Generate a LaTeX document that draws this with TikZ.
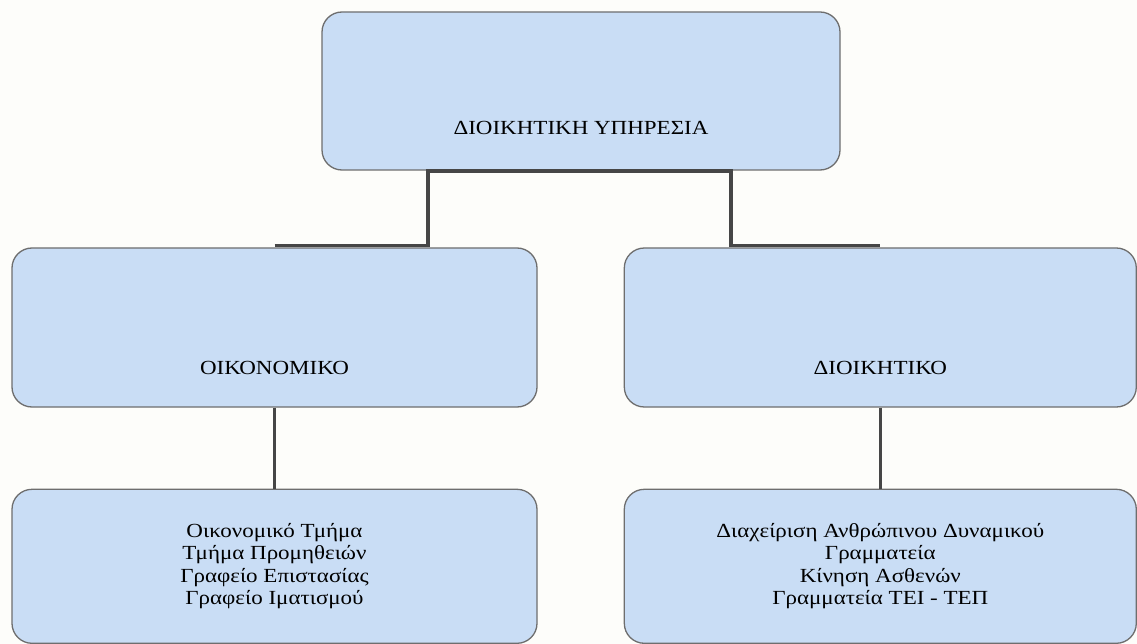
\documentclass[tikz,border=0pt]{standalone}
\usepackage{fontspec}
\setmainfont[FakeStretch=1.15]{Liberation Serif}
\usetikzlibrary{positioning,calc}
\definecolor{boxblue}{RGB}{201,221,245}
\definecolor{boxline}{RGB}{110,110,110}
\definecolor{connline}{RGB}{70,70,70}
\definecolor{paper}{RGB}{253,253,250}

\begin{document}
\begin{tikzpicture}[
  x=1pt, y=-1pt,
  box/.style={draw=boxline, fill=boxblue, line width=1.3pt, rounded corners=20pt,
    inner sep=0pt, align=center, font=\fontsize{20}{22.5}\selectfont},
  title/.style={align=center, font=\fontsize{20}{22.5}\selectfont},
  conn/.style={draw=connline, line width=3.2pt}
]
\fill[paper] (0,0) rectangle (1137,644);
\useasboundingbox (0,0) rectangle (1137,644);

% top level
\node[box, minimum width=518pt, minimum height=158pt] (admin) at (581,91) {};
\node[title] (admintxt) at ([yshift=43pt]admin.south) {ΔΙΟΙΚΗΤΙΚΗ ΥΠΗΡΕΣΙΑ};

% second level
\node[box, minimum width=525pt, minimum height=159pt] (econ) at (274.5,327.5) {};
\node[box, minimum width=512pt, minimum height=159pt, right=86pt of econ] (adm) {};
\node[title] (econtxt) at ([yshift=40pt]econ.south) {ΟΙΚΟΝΟΜΙΚΟ};
\node[title] (admtxt) at ([yshift=40pt]adm.south) {ΔΙΟΙΚΗΤΙΚΟ};

% third level
\node[box, minimum width=525pt, minimum height=154pt, below=81pt of econ] (econsub)
  {Οικονομικό Τμήμα\\Τμήμα Προμηθειών\\Γραφείο Επιστασίας\\Γραφείο Ιματισμού};
\node[box, minimum width=512pt, minimum height=154pt, below=81pt of adm] (admsub)
  {Διαχείριση Ανθρώπινου Δυναμικού\\Γραμματεία\\Κίνηση Ασθενών\\Γραμματεία ΤΕΙ - ΤΕΠ};

% connectors
\coordinate (jl) at (428,171);
\coordinate (jr) at (731,171);
\draw[conn] ([yshift=1.5pt]econ.north) -| (jl) -- (jr) |- ([yshift=1.5pt]adm.north);
\draw[conn] (econ.south) -- (econsub.north);
\draw[conn] (adm.south) -- (admsub.north);
\end{tikzpicture}
\end{document}
